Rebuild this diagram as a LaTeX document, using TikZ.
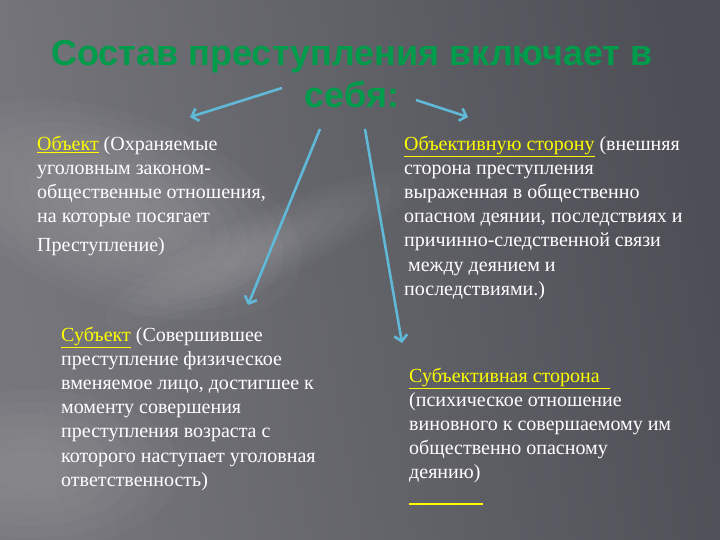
\documentclass[tikz,border=0pt]{standalone}
\usepackage{fontspec}
\setmainfont{Liberation Serif}
\newfontfamily\titlefont{Liberation Sans}
\usetikzlibrary{arrows.meta}

\definecolor{bgdark}{RGB}{78,78,86}
\definecolor{bglight}{RGB}{118,118,124}
\definecolor{titlegreen}{RGB}{0,155,75}
\definecolor{arrowblue}{RGB}{95,185,215}
\definecolor{keyyellow}{RGB}{255,255,0}

\tikzset{
  textblock/.style={anchor=north west,inner sep=0pt,align=left,text=white,
    font=\fontsize{20}{24.1}\selectfont},
  pointer/.style={draw=arrowblue,line width=2.6pt,
    -{Straight Barb[length=6pt,width=13pt]}},
  glow/.style={fill=white,opacity=0.025}
}
\newcommand{\keyword}[1]{\textcolor{keyyellow}{\underline{#1}}}

\begin{document}
\begin{tikzpicture}[x=1pt,y=-1pt]
    \useasboundingbox (0,0) rectangle (720,540);
    \shade[left color=bglight,right color=bgdark,shading angle=100] (0,0) rectangle (720,540);
    \clip (0,0) rectangle (720,540);
    \foreach \s in {1.0,0.9,...,0.15}
      \fill[glow,rotate around={-20:(120,210)}] (120,210) ellipse ({190*\s} and {95*\s});
    \foreach \s in {1.0,0.85,...,0.2}
      \fill[glow,rotate around={25:(260,250)}] (260,250) ellipse ({170*\s} and {35*\s});
    \foreach \s in {1.0,0.85,...,0.2}
      \fill[glow] (30,470) ellipse ({150*\s} and {80*\s});

    \node at (352,40) (title) [anchor=north,align=center,text=titlegreen,inner sep=0pt,
      font=\titlefont\bfseries\fontsize{36}{42}\selectfont] {Состав преступления включает в\\себя:};

    \node at (37,136) (object) [textblock] {\keyword{Объект} (Охраняемые\\
      уголовным законом-\\общественные отношения,\\на которые посягает\\[5pt]Преступление)};
    \node at (404,136) (objside) [textblock] {\keyword{Объективную сторону} (внешняя\\
      сторона преступления\\выраженная в общественно\\опасном деянии, последствиях и\\
      причинно-следственной связи\\\hspace{4pt}между деянием и\\последствиями.)};
    \node at (61,327) (subject) [textblock] {\keyword{Субъект} (Совершившее\\
      преступление физическое\\вменяемое лицо, достигшее к\\моменту совершения\\
      преступления возраста с\\которого наступает уголовная\\ответственность)};
    \node at (409,368) (subjside) [textblock] {\keyword{Субъективная сторона\ \ }\\
      (психическое отношение\\виновного к совершаемому им\\общественно опасному\\деянию)};
    \draw[keyyellow,line width=1.6pt] (409,504) -- (483,504);

    \coordinate (objA) at (282,88);
    \coordinate (objB) at (190,117);
    \coordinate (osA) at (416,100);
    \coordinate (osB) at (468,117);
    \coordinate (subA) at (320,129);
    \coordinate (subB) at (248,305);
    \coordinate (ssA) at (365,129);
    \coordinate (ssB) at (402,343);

    \draw[pointer] (objA) to (objB);
    \draw[pointer] (osA) to (osB);
    \draw[pointer] (subA) to (subB);
    \draw[pointer] (ssA) to (ssB);
\end{tikzpicture}
\end{document}
